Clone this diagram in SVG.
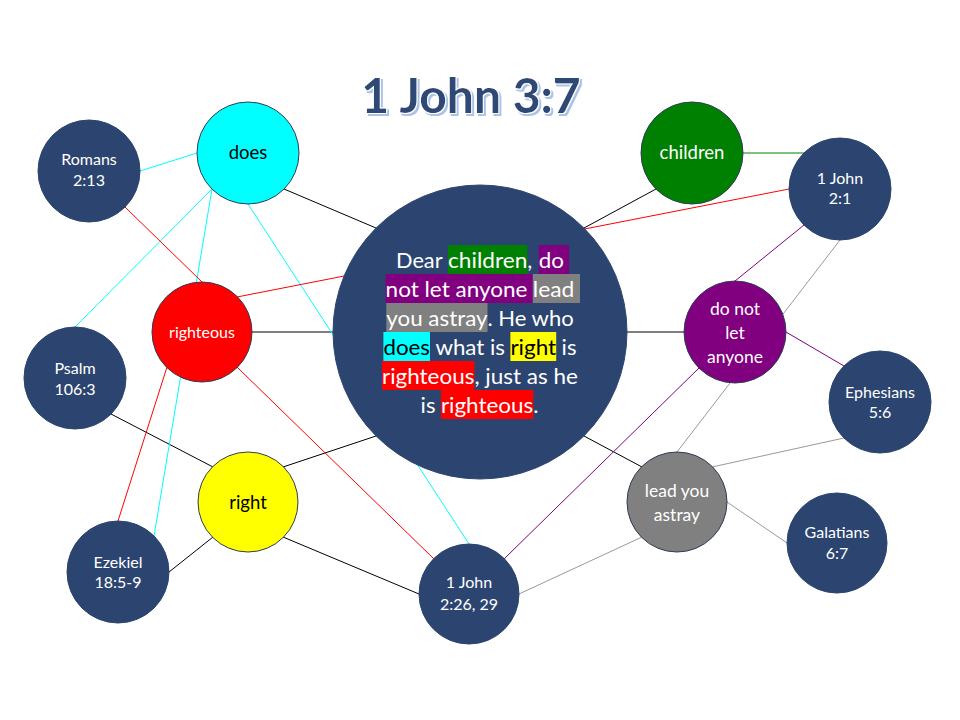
<svg xmlns="http://www.w3.org/2000/svg" width="960" height="720" viewBox="0 0 960 720">
<defs>
  <filter id="shadow" x="-10%" y="-20%" width="120%" height="150%">
    <feMorphology in="SourceAlpha" operator="dilate" radius="0.8" result="grow"/>
    <feFlood flood-color="#FFFFFF" result="white"/>
    <feComposite in="white" in2="grow" operator="in" result="outline"/>
    <feOffset in="grow" dx="2" dy="2" result="off"/>
    <feFlood flood-color="#A9C4E6" result="blue"/>
    <feComposite in="blue" in2="off" operator="in" result="sh"/>
    <feMerge>
      <feMergeNode in="sh"/>
      <feMergeNode in="outline"/>
      <feMergeNode in="SourceGraphic"/>
    </feMerge>
  </filter>
</defs>
<style>
  .lbl { font-family: Lato, "Liberation Sans", sans-serif; text-anchor: middle; fill: #FFFFFF; }
  .dark { fill: #000000; }
  .ref { font-size: 16px; }
  .big { font-size: 18.5px; }
  .mid { font-size: 17.5px; }
  .node { stroke: #2F3B55; stroke-width: 1; }
  .navy { fill: #2C4570; stroke: #2C4570; }
  .ct { font-family: Lato, "Liberation Sans", sans-serif; font-size: 22px; fill: #FFFFFF; }
  .ct.b { fill: #000000; }
  .con line { stroke-width: 1; fill: none; }
  .k { stroke: #000000; }
  .c { stroke: #00FFFF; }
  .r { stroke: #FF0000; }
  .g { stroke: #008000; }
  .p { stroke: #800080; }
  .y { stroke: #999999; }
</style>
<rect width="960" height="720" fill="#FFFFFF"/>
<g id="title">
  <text x="471" y="113" font-family="Lato, 'Liberation Sans', sans-serif" font-weight="bold" font-size="48" text-anchor="middle" fill="#2E4876" filter="url(#shadow)">1 John 3:7</text>
</g>
<g id="connectors" class="con">
  <line class="k" x1="284" y1="189" x2="376" y2="228"/>
  <line class="k" x1="252" y1="332" x2="333" y2="332"/>
  <line class="k" x1="283" y1="467" x2="376" y2="436"/>
  <line class="k" x1="656" y1="189" x2="584" y2="228"/>
  <line class="k" x1="684" y1="332" x2="627" y2="332"/>
  <line class="k" x1="642" y1="467" x2="584" y2="436"/>
  <line class="k" x1="111" y1="414" x2="213" y2="467"/>
  <line class="k" x1="213" y1="537" x2="169" y2="572"/>
  <line class="k" x1="283" y1="537" x2="419" y2="594"/>
  <line class="c" x1="140" y1="171" x2="197" y2="153"/>
  <line class="c" x1="212" y1="189" x2="75" y2="327"/>
  <line class="c" x1="212" y1="189" x2="154" y2="536"/>
  <line class="c" x1="248" y1="204" x2="469" y2="544"/>
  <line class="r" x1="125" y1="207" x2="202" y2="282"/>
  <line class="r" x1="167" y1="367" x2="118" y2="521"/>
  <line class="r" x1="237" y1="297" x2="789" y2="189"/>
  <line class="r" x1="237" y1="367" x2="434" y2="559"/>
  <line class="g" x1="743" y1="153" x2="804" y2="153"/>
  <line class="p" x1="735" y1="281" x2="804" y2="225"/>
  <line class="p" x1="786" y1="332" x2="844" y2="366"/>
  <line class="p" x1="699" y1="368" x2="504" y2="559"/>
  <line class="y" x1="840" y1="240" x2="677" y2="452"/>
  <line class="y" x1="844" y1="438" x2="712" y2="467"/>
  <line class="y" x1="727" y1="502" x2="787" y2="543"/>
  <line class="y" x1="642" y1="537" x2="519" y2="594"/>
</g>
<g id="verse">
  <circle cx="480" cy="332" r="147" class="navy"/>
  <rect x="448" y="245" width="79.3" height="29" fill="#008000"/>
  <rect x="538.7" y="245" width="30.4" height="29" fill="#800080"/>
  <rect x="385.6" y="274" width="147.2" height="29" fill="#800080"/>
  <rect x="532.8" y="274" width="47.2" height="29" fill="#808080"/>
  <rect x="386.3" y="303" width="101.2" height="29" fill="#808080"/>
  <rect x="383.4" y="332" width="46.6" height="29" fill="#00FFFF"/>
  <rect x="510.4" y="332" width="45.8" height="29" fill="#FFFF00"/>
  <rect x="382" y="361" width="92.4" height="29" fill="#FF0000"/>
  <rect x="440.9" y="390" width="92.4" height="29" fill="#FF0000"/>
  <text class="ct" x="396" y="268" textLength="46.6" lengthAdjust="spacingAndGlyphs">Dear</text>
  <text class="ct" x="448" y="268" textLength="79.3" lengthAdjust="spacingAndGlyphs">children</text>
  <text class="ct" x="527.3" y="268">,</text>
  <text class="ct" x="538.7" y="268" textLength="25.2" lengthAdjust="spacingAndGlyphs">do</text>
  <text class="ct" x="385.6" y="297" textLength="141.8" lengthAdjust="spacingAndGlyphs">not let anyone</text>
  <text class="ct" x="532.8" y="297" textLength="41.5" lengthAdjust="spacingAndGlyphs">lead</text>
  <text class="ct" x="386.3" y="326" textLength="101.2" lengthAdjust="spacingAndGlyphs">you astray</text>
  <text class="ct" x="487.5" y="326" textLength="86.2" lengthAdjust="spacingAndGlyphs">. He who</text>
  <text class="ct b" x="383.4" y="355" textLength="46.6" lengthAdjust="spacingAndGlyphs">does</text>
  <text class="ct" x="435.4" y="355" textLength="69.6" lengthAdjust="spacingAndGlyphs">what is</text>
  <text class="ct b" x="510.4" y="355" textLength="45.8" lengthAdjust="spacingAndGlyphs">right</text>
  <text class="ct" x="561.6" y="355" textLength="14.9" lengthAdjust="spacingAndGlyphs">is</text>
  <text class="ct" x="382" y="384" textLength="92.4" lengthAdjust="spacingAndGlyphs">righteous</text>
  <text class="ct" x="474.4" y="384" textLength="103.5" lengthAdjust="spacingAndGlyphs">, just as he</text>
  <text class="ct" x="420.6" y="413" textLength="14.9" lengthAdjust="spacingAndGlyphs">is</text>
  <text class="ct" x="440.9" y="413" textLength="92.4" lengthAdjust="spacingAndGlyphs">righteous</text>
  <text class="ct" x="533.3" y="413">.</text>
</g>
<g id="does">
  <circle cx="248" cy="153" r="51" class="node" fill="#00FFFF"/>
  <text class="lbl dark big" x="248" y="159">does</text>
</g>
<g id="romans">
  <circle cx="89" cy="171" r="51" class="navy"/>
  <text class="lbl ref" x="89" y="165">Romans</text>
  <text class="lbl ref" x="89" y="186">2:13</text>
</g>
<g id="righteous">
  <circle cx="202" cy="332" r="50" class="node" fill="#FF0000"/>
  <text class="lbl ref" x="202" y="338">righteous</text>
</g>
<g id="psalm">
  <circle cx="75" cy="378" r="51" class="navy"/>
  <text class="lbl ref" x="75" y="374">Psalm</text>
  <text class="lbl ref" x="75" y="395">106:3</text>
</g>
<g id="right">
  <circle cx="248" cy="502" r="50" class="node" fill="#FFFF00"/>
  <text class="lbl dark big" x="248" y="509">right</text>
</g>
<g id="ezekiel">
  <circle cx="118" cy="572" r="51" class="navy"/>
  <text class="lbl ref" x="118" y="568">Ezekiel</text>
  <text class="lbl ref" x="118" y="588">18:5-9</text>
</g>
<g id="john226">
  <circle cx="469" cy="594" r="50" class="navy"/>
  <text class="lbl ref" x="469" y="588">1 John</text>
  <text class="lbl ref" x="469" y="610">2:26, 29</text>
</g>
<g id="lead">
  <circle cx="677" cy="502" r="50" class="node" fill="#808080"/>
  <text class="lbl mid" x="677" y="497">lead you</text>
  <text class="lbl mid" x="677" y="521">astray</text>
</g>
<g id="galatians">
  <circle cx="837" cy="543" r="50" class="navy"/>
  <text class="lbl ref" x="837" y="538">Galatians</text>
  <text class="lbl ref" x="837" y="559">6:7</text>
</g>
<g id="children">
  <circle cx="692" cy="153" r="51" class="node" fill="#008000"/>
  <text class="lbl big" x="692" y="159">children</text>
</g>
<g id="john21">
  <circle cx="840" cy="189" r="51" class="navy"/>
  <text class="lbl ref" x="840" y="184">1 John</text>
  <text class="lbl ref" x="840" y="204">2:1</text>
</g>
<g id="donotlet">
  <circle cx="735" cy="332" r="51" class="node" fill="#800080"/>
  <text class="lbl mid" x="735" y="315">do not</text>
  <text class="lbl mid" x="735" y="339">let</text>
  <text class="lbl mid" x="735" y="363">anyone</text>
</g>
<g id="ephesians">
  <circle cx="880" cy="402" r="51" class="navy"/>
  <text class="lbl ref" x="880" y="398">Ephesians</text>
  <text class="lbl ref" x="880" y="418">5:6</text>
</g>
</svg>
